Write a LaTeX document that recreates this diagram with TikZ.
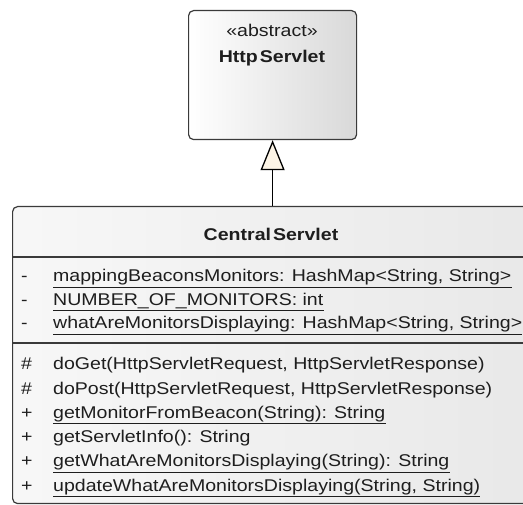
\documentclass[tikz,border=0pt]{standalone}
\usepackage{fontspec}
\setmainfont[FakeStretch=1.15]{Liberation Sans}
\usetikzlibrary{arrows.meta}
\definecolor{inkline}{HTML}{3A3A3A}
\definecolor{tiptone}{HTML}{FCF4E6}
\definecolor{txt}{HTML}{1E1E1E}
\begin{document}
\begin{tikzpicture}[x=1pt,y=-1pt,
  font=\fontsize{17}{20}\selectfont,
  classbox/.style={draw=inkline, line width=1.2pt, rounded corners=5pt,
    inner sep=0pt, anchor=north west},
  member/.style={anchor=base west, inner sep=0pt, text=txt},
  vis/.style={anchor=base west, inner sep=0pt, text=txt},
  caption/.style={anchor=base, inner sep=0pt, text=txt},
  staticline/.style={draw=txt, line width=0.9pt},
  divider/.style={draw=inkline, line width=1.2pt},
  gen/.style={draw=black, line width=1.3pt,
    -{Triangle[width=24pt,length=30pt,fill=tiptone]}}]
\useasboundingbox (0,0) rectangle (523,505);
\clip (0,0) rectangle (523,505);

% abstract base class
\node[classbox, minimum width=168pt, minimum height=129pt,
  left color=white, right color=black!15] (http) at (188,10) {};
\node[caption] (stereo) at (272,37) {«abstract»};
\node[caption, font=\fontsize{17}{20}\selectfont\bfseries] (httpname) at (272,63) {Http\kern2ptServlet};

% concrete servlet class (runs past the right edge)
\node[classbox, minimum width=530pt, minimum height=297pt,
  left color=black!3, right color=black!9] (central) at (12,206) {};
\node[caption, font=\fontsize{17}{20}\selectfont\bfseries] (centralname) at (271,241) {Central\kern2ptServlet};
\draw[divider] (12,257) -- (542,257);
\draw[divider, line width=1.9pt] (12,343) -- (542,343);

% attributes
\foreach \y/\s/\n/\t in {
  282/-/a1/{mappingBeaconsMonitors: HashMap<String, String>},
  305.5/-/a2/{NUMBER\_OF\_MONITORS: int},
  329/-/a3/{whatAreMonitorsDisplaying: HashMap<String, String>}}{
  \node[vis] (v\n) at (21,\y) {\s};
  \node[member] (\n) at (53,\y) {\t};
}
\foreach \n in {a1,a2,a3}
  \draw[staticline] ([yshift=-5pt]\n.base west) -- ([yshift=-5pt]\n.base east);

% operations
\foreach \y/\s/\n/\t in {
  370/\#/o1/{doGet(HttpServletRequest, HttpServletResponse)},
  394.3/\#/o2/{doPost(HttpServletRequest, HttpServletResponse)},
  418.6/+/o3/{getMonitorFromBeacon(String): String},
  443/+/o4/{getServletInfo(): String},
  467/+/o5/{getWhatAreMonitorsDisplaying(String): String},
  491.3/+/o6/{updateWhatAreMonitorsDisplaying(String, String)}}{
  \node[vis] (v\n) at (21,\y) {\s};
  \node[member] (\n) at (53,\y) {\t};
}
\foreach \n in {o3,o5,o6}
  \draw[staticline] ([yshift=-5pt]\n.base west) -- ([yshift=-5pt]\n.base east);

% generalization
\draw[gen] (central.north -| http.south) -- (http.south);
\end{tikzpicture}
\end{document}
